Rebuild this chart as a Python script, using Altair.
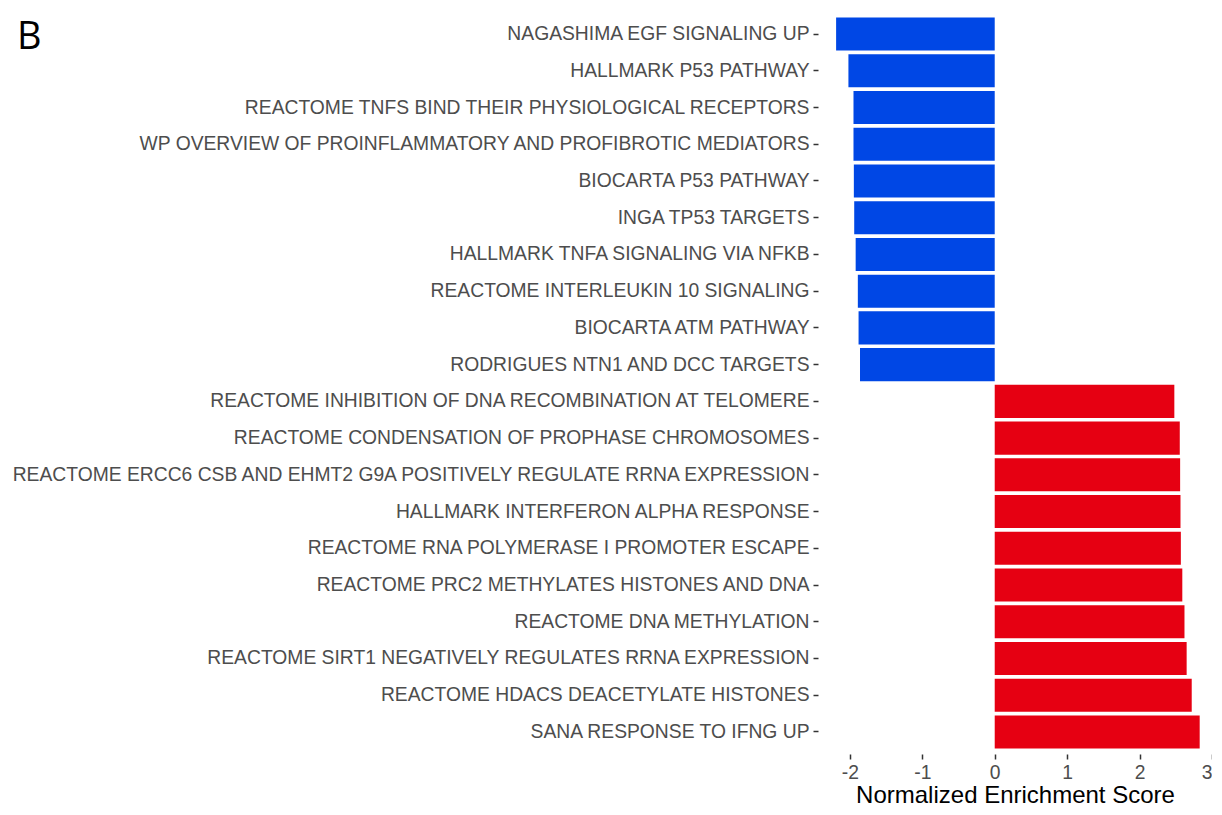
import altair as alt
import pandas as pd

terms = [
    "NAGASHIMA EGF SIGNALING UP",
    "HALLMARK P53 PATHWAY",
    "REACTOME TNFS BIND THEIR PHYSIOLOGICAL RECEPTORS",
    "WP OVERVIEW OF PROINFLAMMATORY AND PROFIBROTIC MEDIATORS",
    "BIOCARTA P53 PATHWAY",
    "INGA TP53 TARGETS",
    "HALLMARK TNFA SIGNALING VIA NFKB",
    "REACTOME INTERLEUKIN 10 SIGNALING",
    "BIOCARTA ATM PATHWAY",
    "RODRIGUES NTN1 AND DCC TARGETS",
    "REACTOME INHIBITION OF DNA RECOMBINATION AT TELOMERE",
    "REACTOME CONDENSATION OF PROPHASE CHROMOSOMES",
    "REACTOME ERCC6 CSB AND EHMT2 G9A POSITIVELY REGULATE RRNA EXPRESSION",
    "HALLMARK INTERFERON ALPHA RESPONSE",
    "REACTOME RNA POLYMERASE I PROMOTER ESCAPE",
    "REACTOME PRC2 METHYLATES HISTONES AND DNA",
    "REACTOME DNA METHYLATION",
    "REACTOME SIRT1 NEGATIVELY REGULATES RRNA EXPRESSION",
    "REACTOME HDACS DEACETYLATE HISTONES",
    "SANA RESPONSE TO IFNG UP",
]
nes = [
    -2.19, -2.02, -1.95, -1.95, -1.945, -1.94, -1.92, -1.89, -1.88, -1.86,
    2.48, 2.555, 2.56, 2.565, 2.57, 2.59, 2.62, 2.65, 2.72, 2.83,
]
x_ticks = [-2, -1, 0, 1, 2, 3]
direction = ["down" if v < 0 else "up" for v in nes]

df = pd.DataFrame({"term": terms, "NES": nes, "dir": direction})

bars = alt.Chart(df).mark_bar(strokeWidth=0).encode(
    y=alt.Y(
        "term:N",
        sort=terms,
        title=None,
        scale=alt.Scale(paddingInner=0.1, paddingOuter=0.15),
        axis=alt.Axis(
            labelFont="Liberation Sans",
            labelFontSize=19.3,
            labelColor="#4D4D4D",
            labelLimit=1000,
            labelPadding=4,
            tickColor="#333333",
            tickSize=5,
            tickWidth=1.5,
            domain=False,
            grid=False,
        ),
    ),
    x=alt.X(
        "NES:Q",
        scale=alt.Scale(domain=[-2.44, 3.0], nice=False, zero=False),
        axis=alt.Axis(
            values=x_ticks,
            labelExpr="datum.value < 0 ? '-' + abs(datum.value) : '' + datum.value",
            title="Normalized Enrichment Score",
            titleFont="Liberation Sans",
            titleFontSize=24,
            titleFontWeight="normal",
            titleColor="#000000",
            titleBaseline="alphabetic",
            titleY=48,
            labelFont="Liberation Sans",
            labelFontSize=19.3,
            labelColor="#4D4D4D",
            labelPadding=4,
            tickColor="#333333",
            tickSize=5,
            tickWidth=1.5,
            domain=False,
            grid=False,
        ),
    ),
    color=alt.Color(
        "dir:N",
        scale=alt.Scale(domain=["down", "up"], range=["#0047E5", "#E60012"]),
        legend=None,
    ),
)

panel = alt.Chart(pd.DataFrame({"lab": ["B"]})).mark_text(
    font="Open Sans", fontSize=38, color="#000000", align="left", baseline="alphabetic"
).encode(
    text="lab:N",
    x=alt.value(-801),
    y=alt.value(37),
)

chart = alt.layer(bars, panel).properties(
    width=394,
    height=742,
    autosize=alt.AutoSizeParams(type="none"),
    padding={"left": 810, "top": 4, "right": 0, "bottom": 53},
    background="white",
).configure_view(stroke=None)

chart.save("out.html", embed_options={"renderer": "svg", "actions": False})
